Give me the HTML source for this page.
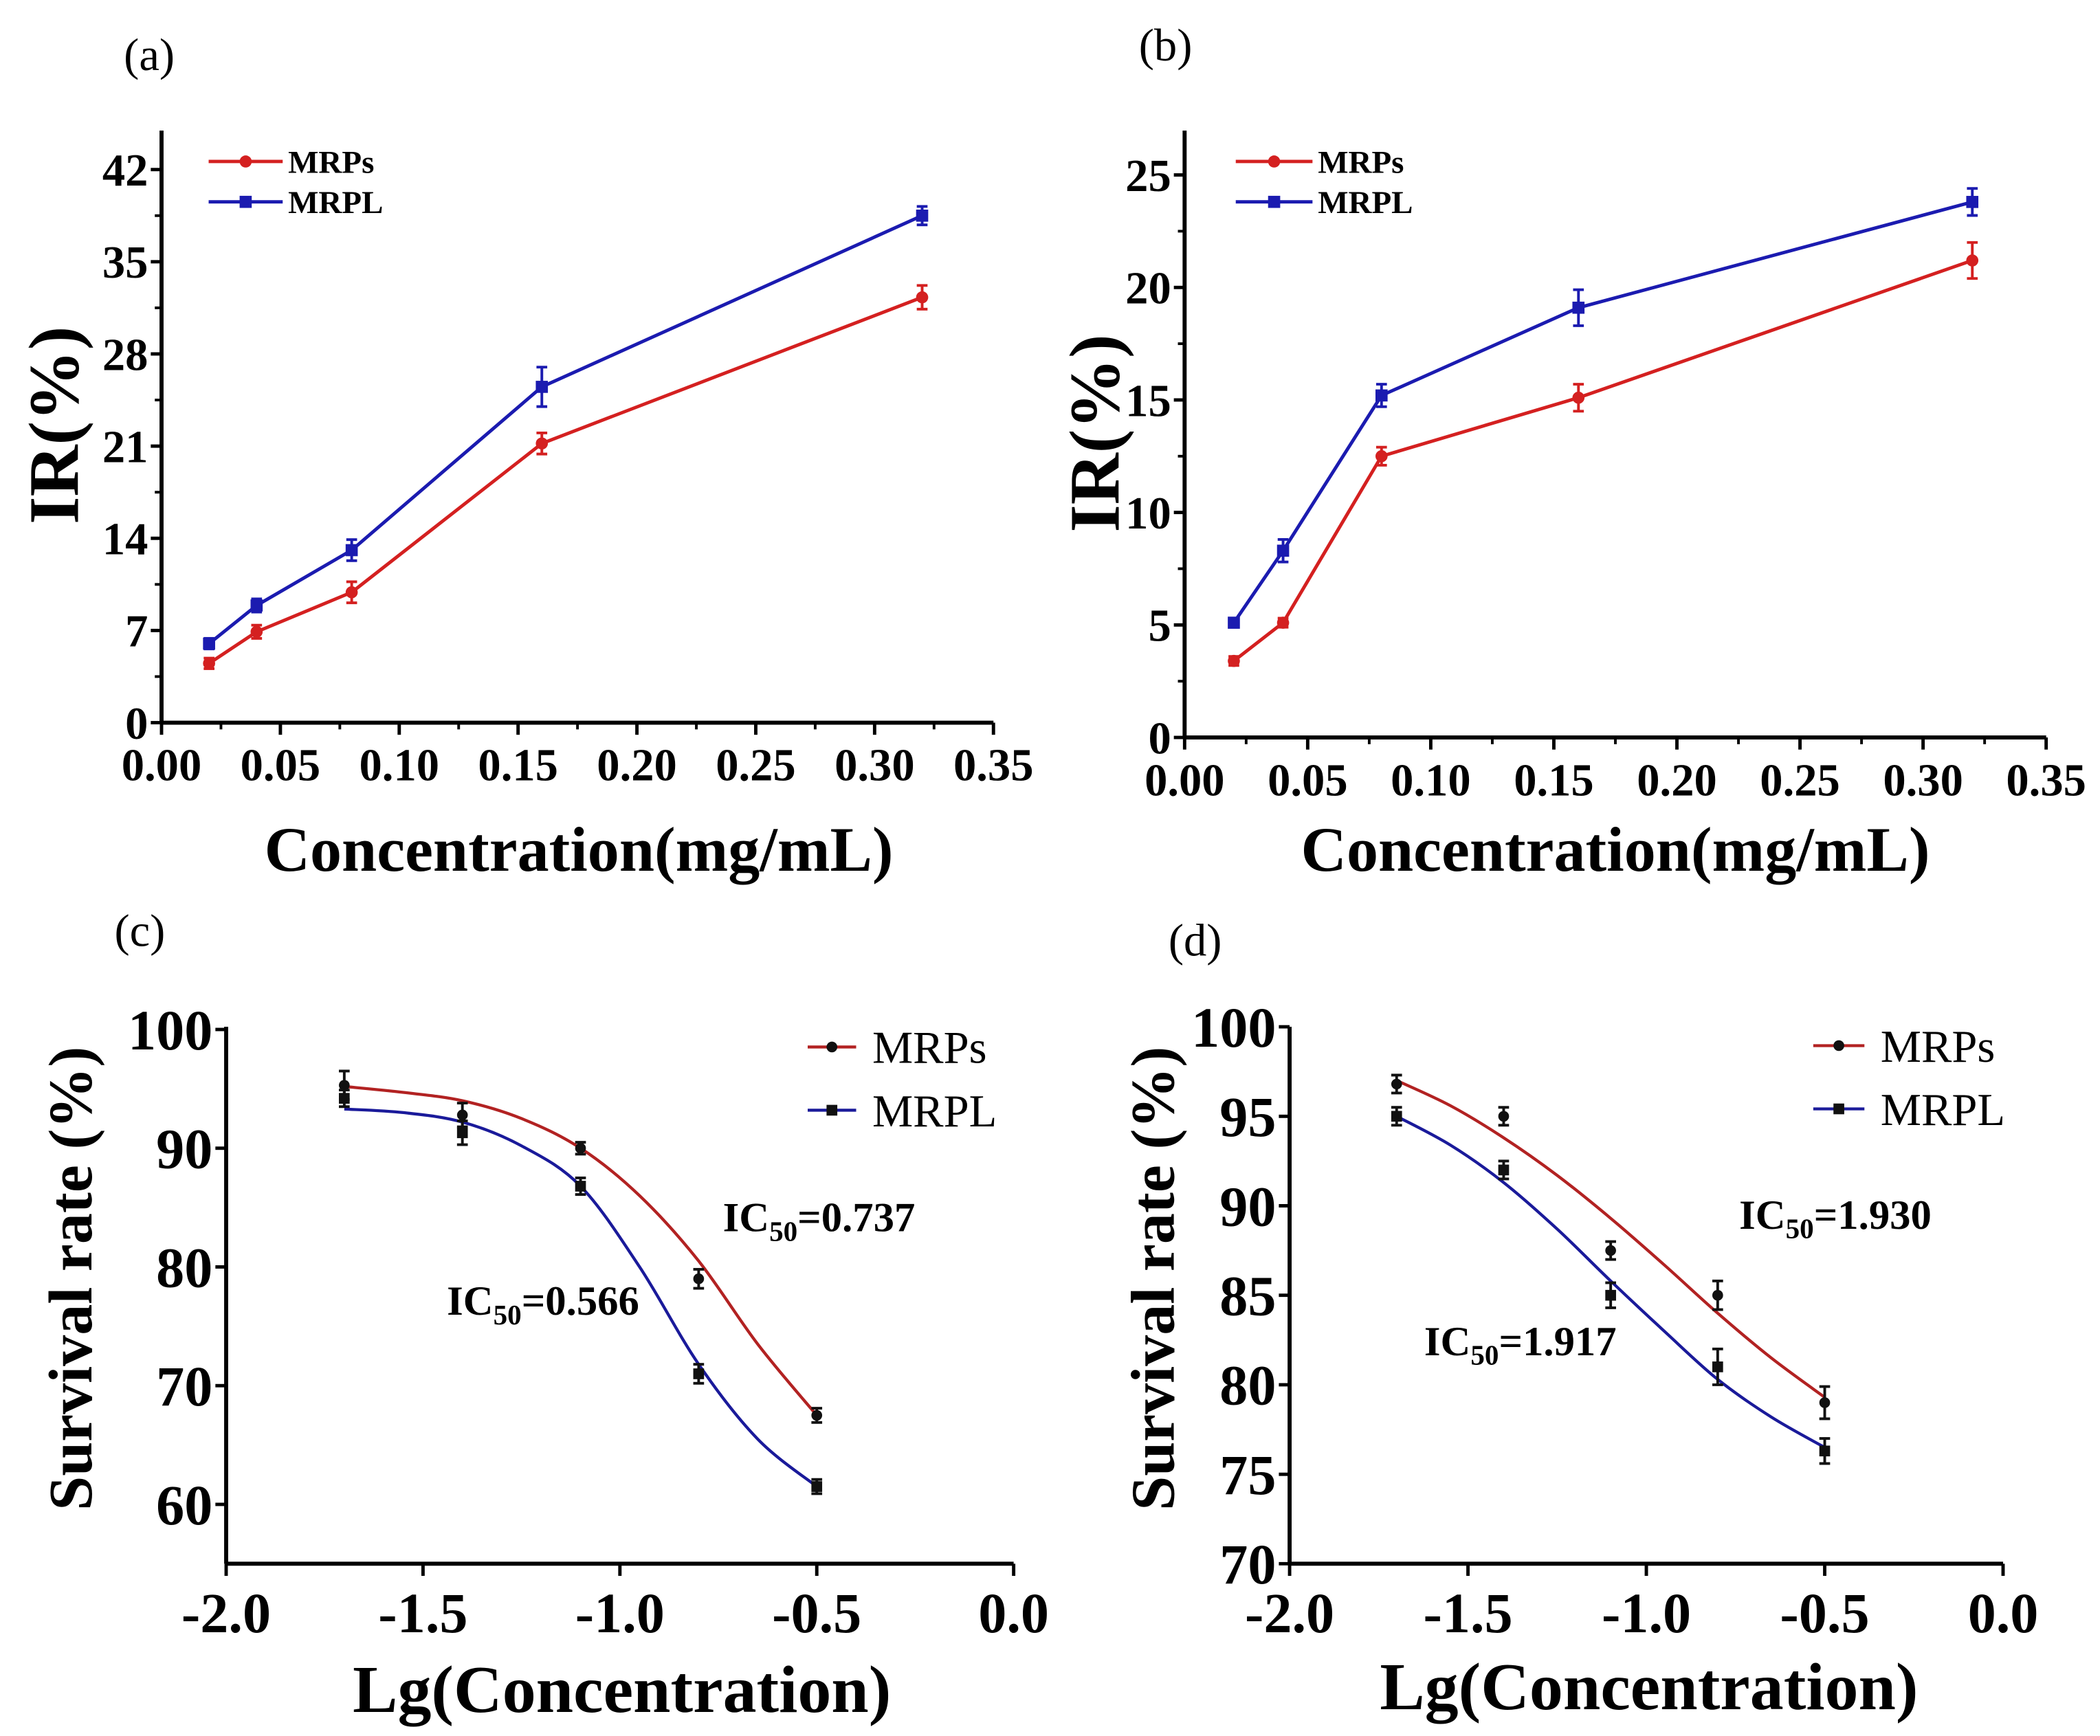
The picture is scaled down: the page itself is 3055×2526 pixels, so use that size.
<!DOCTYPE html>
<html><head><meta charset="utf-8">
<style>
html,body{margin:0;padding:0;background:#fff;}
svg{display:block;font-family:"Liberation Serif",serif;}
</style></head>
<body>
<svg id="fig" width="3055" height="2526" viewBox="0 0 1560 1290" preserveAspectRatio="none" xmlns="http://www.w3.org/2000/svg">
<rect x="0" y="0" width="1560" height="1290" fill="#fff"/>
<text x="92" y="52" font-size="34">(a)</text>
<text x="846" y="45" font-size="34">(b)</text>
<text x="85" y="703" font-size="34">(c)</text>
<text x="868" y="710" font-size="34">(d)</text>
</svg>
<script>
// ---- data ----
const concA = [0.02, 0.04, 0.08, 0.16, 0.32];
const aMRPs = [4.5, 6.9, 9.9, 21.2, 32.3];
const aMRPsErr = [0.4, 0.5, 0.8, 0.8, 0.9];
const aMRPL = [6.0, 8.9, 13.1, 25.5, 38.5];
const aMRPLErr = [0.4, 0.5, 0.8, 1.5, 0.7];
const aTicksY = [0, 7, 14, 21, 28, 35, 42];
const abTicksX = ["0.00","0.05","0.10","0.15","0.20","0.25","0.30","0.35"];

const bMRPs = [3.4, 5.1, 12.5, 15.1, 21.2];
const bMRPsErr = [0.2, 0.2, 0.4, 0.6, 0.8];
const bMRPL = [5.1, 8.3, 15.2, 19.1, 23.8];
const bMRPLErr = [0.2, 0.5, 0.5, 0.8, 0.6];
const bTicksY = [0, 5, 10, 15, 20, 25];

const lgConc = [-1.7, -1.4, -1.1, -0.8, -0.5];
const cMRPs = [95.3, 92.8, 90.0, 79.0, 67.5];
const cMRPsErr = [1.2, 1.0, 0.5, 0.8, 0.6];
const cMRPL = [94.2, 91.3, 86.8, 71.0, 61.5];
const cMRPLErr = [0.7, 1.0, 0.7, 0.8, 0.6];
const fitX = [-1.7, -1.55, -1.4, -1.25, -1.1, -0.95, -0.8, -0.65, -0.5];
const cMRPsFit = [95.2, 94.7, 94.0, 92.5, 90.0, 86.0, 80.5, 73.5, 67.5];
const cMRPLFit = [93.3, 93.0, 92.2, 90.2, 86.8, 80.0, 71.8, 65.5, 61.5];
const cTicksY = [60, 70, 80, 90, 100];
const cdTicksX = ["-2.0","-1.5","-1.0","-0.5","0.0"];

const dMRPs = [96.8, 95.0, 87.5, 85.0, 79.0];
const dMRPsErr = [0.5, 0.5, 0.5, 0.8, 0.9];
const dMRPL = [95.0, 92.0, 85.0, 81.0, 76.3];
const dMRPLErr = [0.5, 0.5, 0.7, 1.0, 0.7];
const dMRPsFit = [97.0, 95.6, 93.8, 91.7, 89.3, 86.7, 84.0, 81.5, 79.3];
const dMRPLFit = [95.0, 93.4, 91.3, 88.7, 85.8, 83.0, 80.3, 78.2, 76.5];
const dTicksY = [70, 75, 80, 85, 90, 95, 100];

const NS = "http://www.w3.org/2000/svg";
const svg = document.getElementById('fig');
function mk(tag, attrs, parent, text){
  const e = document.createElementNS(NS, tag);
  for (const k in attrs) e.setAttribute(k, attrs[k]);
  if (text !== undefined) e.textContent = text;
  (parent||svg).appendChild(e);
  return e;
}
function spline(pts){
  let d = "M" + pts[0][0] + "," + pts[0][1];
  for (let i=0;i<pts.length-1;i++){
    const p0=pts[Math.max(i-1,0)], p1=pts[i], p2=pts[i+1], p3=pts[Math.min(i+2,pts.length-1)];
    const c1=[p1[0]+(p2[0]-p0[0])/6, p1[1]+(p2[1]-p0[1])/6];
    const c2=[p2[0]-(p3[0]-p1[0])/6, p2[1]-(p3[1]-p1[1])/6];
    d += " C"+c1[0]+","+c1[1]+" "+c2[0]+","+c2[1]+" "+p2[0]+","+p2[1];
  }
  return d;
}

function panel(cfg){
  const g = mk('g', {});
  
  
  const X = v => cfg.x0 + (v - cfg.xmin) / (cfg.xmax - cfg.xmin) * (cfg.x1 - cfg.x0);
  const Y = v => cfg.y0 - (v - cfg.ymin) / (cfg.ymax - cfg.ymin) * (cfg.y0 - cfg.yTop);
  const ax = mk('line', {x1:cfg.x0, y1:cfg.y0, x2:cfg.x1, y2:cfg.y0, stroke:'#000','stroke-width':3}, g);
  
  
  const ay = mk('line', {x1:cfg.x0, y1:cfg.y0, x2:cfg.x0, y2:cfg.axisTop, stroke:'#000','stroke-width':3}, g);
  
  
  cfg.ticksY.forEach((t,i)=>{
    const y = Y(t);
    mk('line',{x1:cfg.x0-8,y1:y,x2:cfg.x0,y2:y,stroke:'#000','stroke-width':2.5},g);
    if (cfg.minorY && i<cfg.ticksY.length-1){
      const ym = Y((t+cfg.ticksY[i+1])/2);
      mk('line',{x1:cfg.x0-5,y1:ym,x2:cfg.x0,y2:ym,stroke:'#000','stroke-width':2},g);
    }
    const tl = mk('text',{x:cfg.x0-10,y:y+cfg.tickFs*0.35,'font-size':cfg.tickFs,'font-weight':'bold','text-anchor':'end'},g,String(t));
    
    
  });
  cfg.ticksX.forEach((t,i)=>{
    const x = X(parseFloat(t));
    mk('line',{x1:x,y1:cfg.y0,x2:x,y2:cfg.y0+9,stroke:'#000','stroke-width':2.5},g);
    if (cfg.minorX && i<cfg.ticksX.length-1){
      const xm = X((parseFloat(t)+parseFloat(cfg.ticksX[i+1]))/2);
      mk('line',{x1:xm,y1:cfg.y0,x2:xm,y2:cfg.y0+5,stroke:'#000','stroke-width':2},g);
    }
    const tl = mk('text',{x:x,y:cfg.y0+cfg.xTickDy,'font-size':cfg.tickFs,'font-weight':'bold','text-anchor':'middle'},g,t);
    
    
  });
  const xt = mk('text',{x:cfg.xTitle[0],y:cfg.xTitle[1],'font-size':cfg.titleFs,'font-weight':'bold','text-anchor':'middle'},g,cfg.xTitleText);
  
  
  const yt = mk('text',{x:0,y:0,'font-size':cfg.yTitleFs,'font-weight':'bold','text-anchor':'middle',transform:'translate('+cfg.yTitle[0]+','+cfg.yTitle[1]+') rotate(-90)'},g,cfg.yTitleText);
  
  
  cfg.series.forEach(s=>{
    const sg = mk('g',{},g);
    
    
    let d;
    if (s.fit){
      d = spline(cfg.fitXs.map((xv,i)=>[X(xv),Y(s.fit[i])]));
    } else {
      d = cfg.xs.map((xv,i)=>(i?'L':'M')+X(xv)+','+Y(s.vals[i])).join(' ');
    }
    const ln = mk('path',{d:d,fill:'none',stroke:s.color,'stroke-width':cfg.lineW},sg);
    
    
    cfg.xs.forEach((xv,i)=>{
      const x = X(xv), y = Y(s.vals[i]), e = s.err[i];
      const mc = s.markColor;
      mk('line',{x1:x,y1:Y(s.vals[i]+e),x2:x,y2:Y(s.vals[i]-e),stroke:mc,'stroke-width':2},sg);
      mk('line',{x1:x-4,y1:Y(s.vals[i]+e),x2:x+4,y2:Y(s.vals[i]+e),stroke:mc,'stroke-width':2},sg);
      mk('line',{x1:x-4,y1:Y(s.vals[i]-e),x2:x+4,y2:Y(s.vals[i]-e),stroke:mc,'stroke-width':2},sg);
      let m;
      if (s.shape==='circle') m = mk('circle',{cx:x,cy:y,r:cfg.markR,fill:mc},sg);
      else m = mk('rect',{x:x-cfg.markR,y:y-cfg.markR,width:cfg.markR*2,height:cfg.markR*2,fill:mc},sg);
      
      
    });
    const lg = mk('g',{},g);
    
    
    const [lx1,lx2,ly] = s.leg;
    mk('line',{x1:lx1,y1:ly,x2:lx2,y2:ly,stroke:s.color,'stroke-width':cfg.lineW},lg);
    const mx=(lx1+lx2)/2;
    if (s.shape==='circle') mk('circle',{cx:mx,cy:ly,r:cfg.markR,fill:s.markColor},lg);
    else mk('rect',{x:mx-cfg.markR,y:ly-cfg.markR,width:cfg.markR*2,height:cfg.markR*2,fill:s.markColor},lg);
    mk('text',{x:lx2+cfg.legGap,y:ly+cfg.legFs*0.35,'font-size':cfg.legFs,'font-weight':cfg.legW},lg,s.label);
  });
}

panel({name:'panel-a', x0:120, x1:738, xmin:0, xmax:0.35, y0:537, yTop:126, ymin:0, ymax:42, axisTop:97,
  ticksY:aTicksY, ticksX:abTicksX, minorY:true, minorX:true, tickFs:34, xTickDy:43, titleFs:47, yTitleFs:53,
  xTitle:[430,647], xTitleText:'Concentration(mg/mL)', yTitle:[58,316], yTitleText:'IR(%)',
  xs:concA, lineW:2.5, markR:4.5, legFs:24, legW:'bold', legGap:4,
  series:[
   {name:'series-a-mrps',label:'MRPs',vals:aMRPs,err:aMRPsErr,color:'#d42020',markColor:'#d42020',shape:'circle',leg:[155,210,120]},
   {name:'series-a-mrpl',label:'MRPL',vals:aMRPL,err:aMRPLErr,color:'#1b1bb0',markColor:'#1b1bb0',shape:'square',leg:[155,210,150]}]});

panel({name:'panel-b', x0:880, x1:1520, xmin:0, xmax:0.35, y0:548, yTop:130, ymin:0, ymax:25, axisTop:97,
  ticksY:bTicksY, ticksX:abTicksX, minorY:true, minorX:true, tickFs:34, xTickDy:43, titleFs:47, yTitleFs:53,
  xTitle:[1200,647], xTitleText:'Concentration(mg/mL)', yTitle:[831,322], yTitleText:'IR(%)',
  xs:concA, lineW:2.5, markR:4.5, legFs:24, legW:'bold', legGap:4,
  series:[
   {name:'series-b-mrps',label:'MRPs',vals:bMRPs,err:bMRPsErr,color:'#d42020',markColor:'#d42020',shape:'circle',leg:[918,975,120]},
   {name:'series-b-mrpl',label:'MRPL',vals:bMRPL,err:bMRPLErr,color:'#1b1bb0',markColor:'#1b1bb0',shape:'square',leg:[918,975,150]}]});

panel({name:'panel-c', x0:168, x1:753, xmin:-2, xmax:0, y0:1162, yTop:765, ymin:55, ymax:100, axisTop:763,
  ticksY:cTicksY, ticksX:cdTicksX, minorY:false, minorX:false, tickFs:42, xTickDy:51, titleFs:50, yTitleFs:46,
  xTitle:[462,1272], xTitleText:'Lg(Concentration)', yTitle:[68,950], yTitleText:'Survival rate (%)',
  xs:lgConc, fitXs:fitX, lineW:2.2, markR:4, legFs:34, legW:'normal', legGap:12,
  series:[
   {name:'series-c-mrps',label:'MRPs',vals:cMRPs,err:cMRPsErr,fit:cMRPsFit,color:'#b22222',markColor:'#111',shape:'circle',leg:[600,636,778]},
   {name:'series-c-mrpl',label:'MRPL',vals:cMRPL,err:cMRPLErr,fit:cMRPLFit,color:'#1a1a9a',markColor:'#111',shape:'square',leg:[600,636,825]}]});

panel({name:'panel-d', x0:958, x1:1488, xmin:-2, xmax:0, y0:1162, yTop:763, ymin:70, ymax:100, axisTop:763,
  ticksY:dTicksY, ticksX:cdTicksX, minorY:false, minorX:false, tickFs:42, xTickDy:51, titleFs:50, yTitleFs:46,
  xTitle:[1225,1270], xTitleText:'Lg(Concentration)', yTitle:[872,950], yTitleText:'Survival rate (%)',
  xs:lgConc, fitXs:fitX, lineW:2.2, markR:4, legFs:34, legW:'normal', legGap:12,
  series:[
   {name:'series-d-mrps',label:'MRPs',vals:dMRPs,err:dMRPsErr,fit:dMRPsFit,color:'#b22222',markColor:'#111',shape:'circle',leg:[1347,1385,777]},
   {name:'series-d-mrpl',label:'MRPL',vals:dMRPL,err:dMRPLErr,fit:dMRPLFit,color:'#1a1a9a',markColor:'#111',shape:'square',leg:[1347,1385,824]}]});

function ic50(x,y,val,name,bold){
  const t = mk('text',{x:x,y:y,'font-size':31,'font-weight':bold?'bold':'normal'});
  
  
  mk('tspan',{},t,'IC');
  mk('tspan',{'font-size':21,dy:7},t,'50');
  mk('tspan',{dy:-7},t,'='+val);
}
ic50(537,915,'0.737','ic50-label-c-mrps',true);
ic50(332,977,'0.566','ic50-label-c-mrpl',true);
ic50(1292,913,'1.930','ic50-label-d-mrps',true);
ic50(1058,1007,'1.917','ic50-label-d-mrpl',true);
</script>
</body></html>
